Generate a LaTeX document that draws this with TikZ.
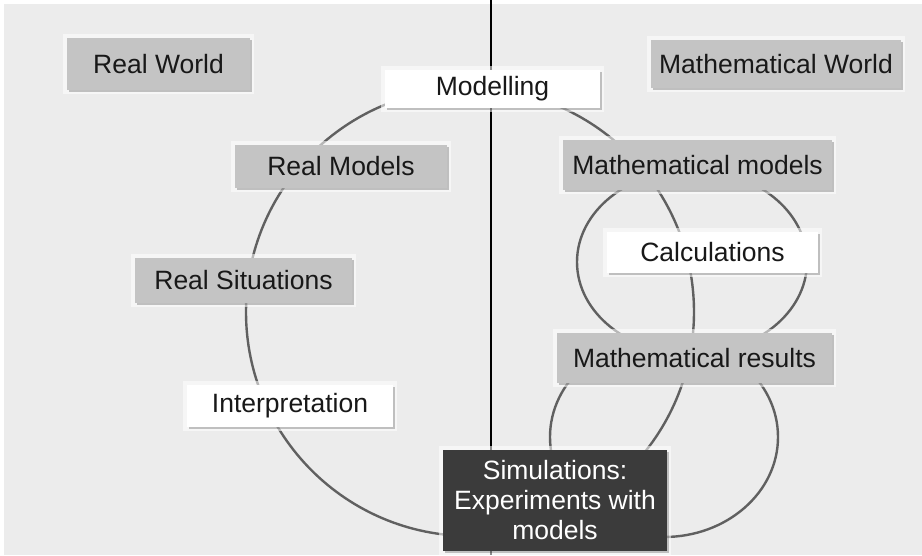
\documentclass[tikz,border=0pt]{standalone}
\usepackage{fontspec}
\setmainfont{Liberation Sans}
\usetikzlibrary{shapes.geometric,shadows}
\definecolor{bggray}{HTML}{ECECEC}
\definecolor{boxgray}{HTML}{C4C4C4}
\definecolor{darkfill}{HTML}{3B3B3B}
\definecolor{linegray}{HTML}{606060}
\definecolor{txt}{HTML}{181818}
\begin{document}
\begin{tikzpicture}[x=1pt,y=-1pt,
  loop/.style={draw=linegray, line width=2.4pt, inner sep=0pt},
  box/.style={rectangle, inner sep=0pt, text=txt,
    font=\fontsize{26.5}{30}\selectfont,
    preaction={draw=white, line width=8pt, draw opacity=0.55},
    drop shadow={shadow xshift=1.5pt, shadow yshift=-1.5pt, fill=black, opacity=0.22}},
  graybox/.style={box, fill=boxgray},
  whitebox/.style={box, fill=white},
  darkbox/.style={box, fill=darkfill, text=white, align=center}
]
\useasboundingbox (0,0) rectangle (922,555);
\fill[white] (0,0) rectangle (922,555);
\fill[bggray] (4,4) rectangle (922,555);

% cycles
\node[loop, circle, minimum size=448pt] (bigcycle) at (470,312) {};
\node[loop, ellipse, minimum width=230pt, minimum height=184pt] (calcloop) at (692,262) {};
\node[loop, ellipse, minimum width=228pt, minimum height=200pt] (simloop) at (664,437) {};

% dividing line
\coordinate (divtop) at (491,0);
\coordinate (divbot) at (491,555);
\draw[black, line width=1.3pt] (divtop) -- (divbot);

% boxes
\node[graybox, minimum width=183pt, minimum height=52pt] (realworld) at (158.5,64) {Real World};
\node[graybox, minimum width=250pt, minimum height=48pt] (mathworld) at (776,64) {Mathematical World};
\node[whitebox, minimum width=215pt, minimum height=38pt] (modelling) at (492.5,89) {Modelling};
\node[graybox, minimum width=212pt, minimum height=43pt] (realmodels) at (341,166.5) {Real Models};
\node[graybox, minimum width=217pt, minimum height=45pt] (realsit) at (243.5,280.5) {Real Situations};
\node[whitebox, minimum width=206pt, minimum height=42pt] (interp) at (290,406) {Interpretation};
\node[graybox, minimum width=269pt, minimum height=50pt] (mathmodels) at (697.5,165) {Mathematical models};
\node[whitebox, minimum width=211pt, minimum height=41pt] (calc) at (712.5,252.5) {Calculations};
\node[graybox, minimum width=275pt, minimum height=50pt] (mathresults) at (694.5,358) {Mathematical results};
\node[darkbox, minimum width=224pt, minimum height=101pt] (sim) at (555,500.5) {Simulations:\\Experiments with\\models};
\end{tikzpicture}
\end{document}
